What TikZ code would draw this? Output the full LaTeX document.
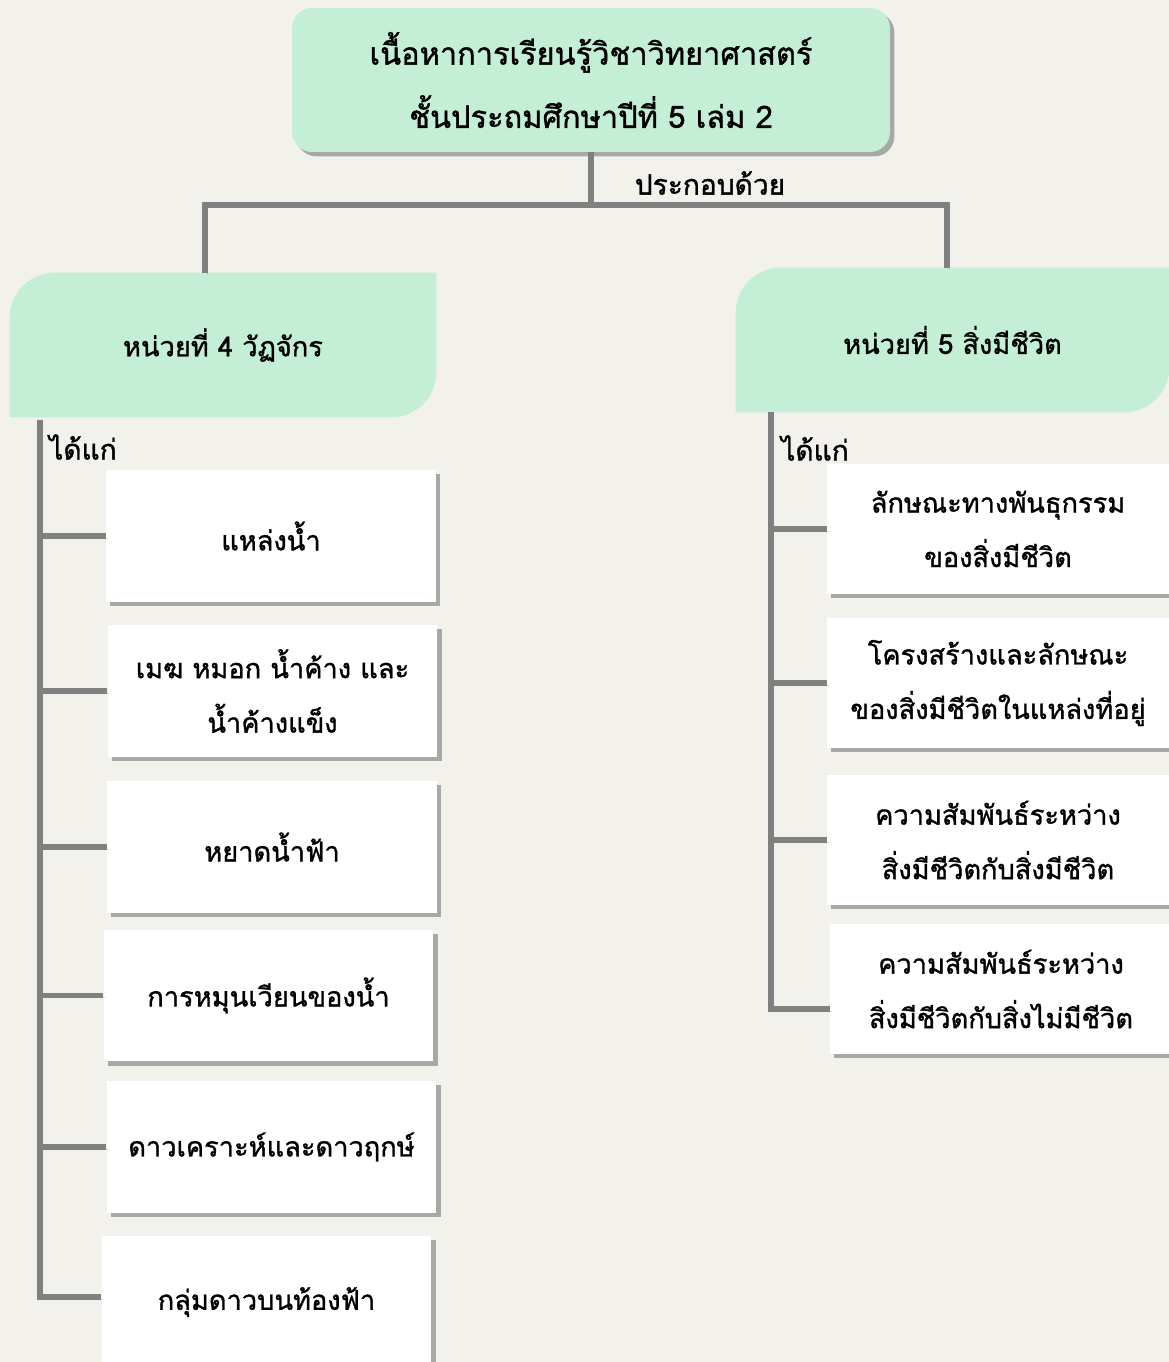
\documentclass[tikz,border=0pt]{standalone}
\usepackage{fontspec}
\newfontfamily\thaifont[Script=Thai,FakeBold=1.2]{Loma}
\usetikzlibrary{shadows,backgrounds}

\definecolor{pagebg}{HTML}{F2F1EC}
\definecolor{unitgreen}{HTML}{C4EFD6}
\definecolor{linkgray}{HTML}{808080}

\tikzset{
  link/.style={linkgray,line width=2.9pt,
    preaction={draw=black,opacity=0.15,transform canvas={shift={(1.2pt,-1.2pt)}}}},
  boxshadow/.style={drop shadow={shadow xshift=2.5pt,shadow yshift=-2.5pt,fill=black,opacity=0.3}},
  titlebox/.style={fill=unitgreen,rounded corners=0.4cm,boxshadow,minimum width=11.96cm,minimum height=2.88cm,
    align=center,font=\thaifont\fontsize{17.5}{36}\selectfont},
  unitbox/.style={minimum height=2.88cm,align=center,font=\thaifont\fontsize{15.5}{31}\selectfont},
  itembox/.style={fill=white,boxshadow,minimum width=6.6cm,minimum height=2.64cm,
    align=center,font=\thaifont\fontsize{15.5}{31}\selectfont},
  ritembox/.style={itembox,minimum width=6.84cm,minimum height=2.6cm},
  tag/.style={font=\thaifont\fontsize{16}{20}\selectfont}
}

\begin{document}
\begin{tikzpicture}[x=0.02cm,y=0.02cm]
\useasboundingbox (0,0) rectangle (1169,-1362);
\begin{scope}[on background layer]
\fill[pagebg] (0,0) rectangle (1169,-1362);
\end{scope}

% title
\node[titlebox] (title) at (591,-80) {เนื้อหาการเรียนรู้วิชาวิทยาศาสตร์\\ชั้นประถมศึกษาปีที่ 5 เล่ม 2};
\node[tag] (made) at (710,-183) {ประกอบด้วย};

% units
\node[unitbox,minimum width=8.52cm] (u4) at (223,-345) {หน่วยที่ 4 วัฏจักร};
\node[unitbox,minimum width=8.66cm] (u5) at (952.5,-340) {หน่วยที่ 5 สิ่งมีชีวิต};
\begin{scope}[on background layer]
\fill[unitgreen] (u4.south west) -- ([yshift=-0.9cm]u4.north west) arc[start angle=180,end angle=90,radius=0.9cm]
  -- (u4.north east) -- ([yshift=0.9cm]u4.south east) arc[start angle=0,end angle=-90,radius=0.9cm] -- cycle;
\fill[unitgreen] (u5.south west) -- ([yshift=-0.9cm]u5.north west) arc[start angle=180,end angle=90,radius=0.9cm]
  -- (u5.north east) -- ([yshift=0.9cm]u5.south east) arc[start angle=0,end angle=-90,radius=0.9cm] -- cycle;
\end{scope}

\coordinate (lbar) at (205,-205);
\coordinate (rbar) at (947,-205);
\draw[link] (title.south) -- (title.south |- lbar);
\draw[link] (lbar |- u4.north) -- (lbar) -- (rbar) -- (rbar |- u5.north);

% unit 4
\node[tag] (get4) at (83,-447) {ได้แก่};
\node[itembox] (a1) at (271,-536) {แหล่งน้ำ};
\node[itembox] (a2) at (272.5,-691) {เมฆ หมอก น้ำค้าง และ\\น้ำค้างแข็ง};
\node[itembox] (a3) at (272,-847) {หยาดน้ำฟ้า};
\node[itembox] (a4) at (268.5,-995.5) {การหมุนเวียนของน้ำ};
\node[itembox] (a5) at (271.5,-1147) {ดาวเคราะห์และดาวฤกษ์};
\node[itembox] (a6) at (266.5,-1302) {กลุ่มดาวบนท้องฟ้า};

\coordinate (lspine) at (40,-420);
\draw[link] (lspine) |- ([yshift=0.1cm]a6.west);
\foreach \i in {1,...,5}
  \draw[link] (lspine |- a\i.west) -- (a\i.west);

% unit 5
\node[tag] (get5) at (815,-448) {ได้แก่};
\node[ritembox] (b1) at (998,-529) {ลักษณะทางพันธุกรรม\\ของสิ่งมีชีวิต};
\node[ritembox] (b2) at (998,-683) {โครงสร้างและลักษณะ\\ของสิ่งมีชีวิตในแหล่งที่อยู่};
\node[ritembox] (b3) at (998,-840) {ความสัมพันธ์ระหว่าง\\สิ่งมีชีวิตกับสิ่งมีชีวิต};
\node[ritembox] (b4) at (1001,-989) {ความสัมพันธ์ระหว่าง\\สิ่งมีชีวิตกับสิ่งไม่มีชีวิต};

\coordinate (rspine) at (771,-412);
\draw[link] (rspine) |- ([yshift=-0.4cm]b4.west);
\foreach \i in {1,...,3}
  \draw[link] (rspine |- b\i.west) -- (b\i.west);

\end{tikzpicture}
\end{document}
